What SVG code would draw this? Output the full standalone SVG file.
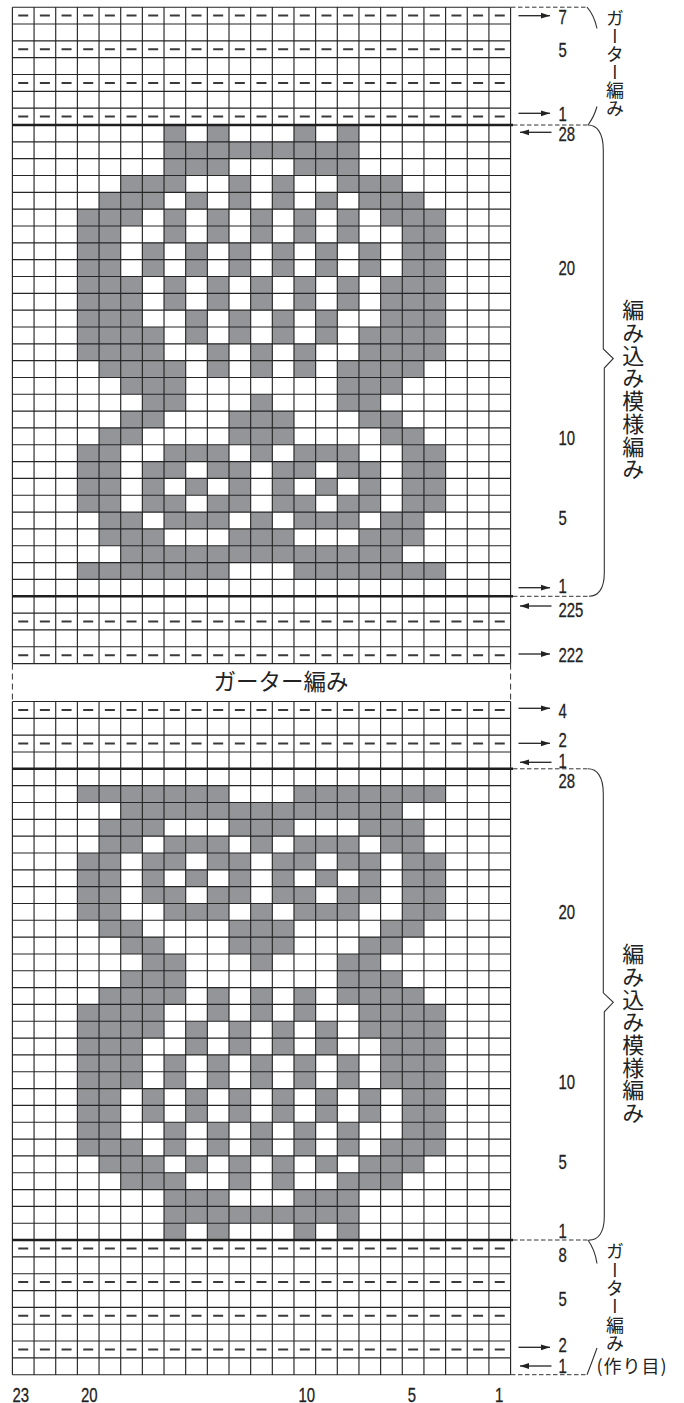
<svg xmlns="http://www.w3.org/2000/svg" xmlns:xlink="http://www.w3.org/1999/xlink" width="684" height="1403" viewBox="0 0 684 1403">
<style>
.grid{fill:none;stroke:#262626;stroke-width:1.15}
.thick{stroke:#1e1e1e;stroke-width:2.6}
.gdash{stroke:#3a3a3a;stroke-width:2;stroke-dasharray:10 11.66}
.lead{fill:none;stroke:#333;stroke-width:1;stroke-dasharray:4.5 2.5}
.gapline{fill:none;stroke:#333;stroke-width:1;stroke-dasharray:6 4}
.arr{stroke:#222;stroke-width:1.3;marker-end:url(#ah)}
.brace{fill:none;stroke:#333;stroke-width:1.1}
.num{font-family:"Liberation Sans",Arial,sans-serif;font-size:21px;fill:#222;stroke:#222;stroke-width:0.3}
.jp{font-family:"Noto Sans CJK JP","Noto Sans",sans-serif;fill:#222}
.vt{writing-mode:vertical-rl}
</style>
<defs>
<marker id="ah" markerUnits="userSpaceOnUse" markerWidth="10" markerHeight="7" refX="9" refY="3.5" orient="auto">
<path d="M0,0.6 L9,3.5 L0,6.4 z" fill="#222"/>
</marker>
<path id="motif" fill="#939598" d="M7 0h1v1h-1zM9 0h1v1h-1zM13 0h1v1h-1zM15 0h1v1h-1z
M7 1h9v1h-9z
M7 2h3v1h-3zM13 2h3v1h-3z
M5 3h3v1h-3zM10 3h1v1h-1zM12 3h1v1h-1zM15 3h3v1h-3z
M4 4h3v1h-3zM8 4h1v1h-1zM10 4h1v1h-1zM12 4h1v1h-1zM14 4h1v1h-1zM16 4h3v1h-3z
M3 5h3v1h-3zM7 5h1v1h-1zM9 5h1v1h-1zM11 5h1v1h-1zM13 5h1v1h-1zM15 5h1v1h-1zM17 5h3v1h-3z
M3 6h2v1h-2zM7 6h1v1h-1zM9 6h1v1h-1zM11 6h1v1h-1zM13 6h1v1h-1zM15 6h1v1h-1zM18 6h2v1h-2z
M3 7h2v2h-2zM6 7h1v2h-1zM8 7h1v2h-1zM10 7h1v2h-1zM12 7h1v2h-1zM14 7h1v2h-1zM16 7h1v2h-1zM18 7h2v2h-2z
M3 9h3v2h-3zM7 9h1v2h-1zM9 9h1v2h-1zM11 9h1v2h-1zM13 9h1v2h-1zM15 9h1v2h-1zM17 9h3v2h-3z
M3 11h3v1h-3zM8 11h1v1h-1zM10 11h1v1h-1zM12 11h1v1h-1zM14 11h1v1h-1zM17 11h3v1h-3z
M3 12h4v1h-4zM8 12h1v1h-1zM10 12h1v1h-1zM12 12h1v1h-1zM14 12h1v1h-1zM16 12h4v1h-4z
M3 13h4v1h-4zM9 13h1v1h-1zM11 13h1v1h-1zM13 13h1v1h-1zM16 13h4v1h-4z
M4 14h4v1h-4zM9 14h1v1h-1zM11 14h1v1h-1zM13 14h1v1h-1zM15 14h4v1h-4z
M5 15h3v1h-3zM15 15h3v1h-3z
M6 16h2v1h-2zM11 16h1v1h-1zM15 16h2v1h-2z
M5 17h2v1h-2zM10 17h3v1h-3zM16 17h2v1h-2z
M4 18h2v1h-2zM10 18h3v1h-3zM17 18h2v1h-2z
M3 19h2v1h-2zM7 19h3v1h-3zM11 19h1v1h-1zM13 19h3v1h-3zM18 19h2v1h-2z
M3 20h2v1h-2zM6 20h2v1h-2zM9 20h2v1h-2zM12 20h2v1h-2zM15 20h2v1h-2zM18 20h2v1h-2z
M3 21h2v1h-2zM6 21h1v1h-1zM8 21h1v1h-1zM10 21h1v1h-1zM12 21h1v1h-1zM14 21h1v1h-1zM16 21h1v1h-1zM18 21h2v1h-2z
M3 22h2v1h-2zM6 22h2v1h-2zM9 22h2v1h-2zM12 22h2v1h-2zM15 22h2v1h-2zM18 22h2v1h-2z
M4 23h2v1h-2zM7 23h3v1h-3zM11 23h1v1h-1zM13 23h3v1h-3zM17 23h2v1h-2z
M4 24h3v1h-3zM10 24h3v1h-3zM16 24h3v1h-3z
M5 25h13v1h-13z
M3 26h7v1h-7zM13 26h7v1h-7z"/>
</defs>
<rect width="684" height="1403" fill="#fff"/>

<g id="chart-top" transform="translate(12.4,7.2) scale(21.66,16.83)">
<use href="#motif" xlink:href="#motif" transform="translate(0,7)"/>
<path class="grid" vector-effect="non-scaling-stroke" d="M0 0H23M0 1H23M0 2H23M0 3H23M0 4H23M0 5H23M0 6H23M0 7H23M0 8H23M0 9H23M0 10H23M0 11H23M0 12H23M0 13H23M0 14H23M0 15H23M0 16H23M0 17H23M0 18H23M0 19H23M0 20H23M0 21H23M0 22H23M0 23H23M0 24H23M0 25H23M0 26H23M0 27H23M0 28H23M0 29H23M0 30H23M0 31H23M0 32H23M0 33H23M0 34H23M0 35H23M0 36H23M0 37H23M0 38H23M0 39H23M0 0V39M1 0V39M2 0V39M3 0V39M4 0V39M5 0V39M6 0V39M7 0V39M8 0V39M9 0V39M10 0V39M11 0V39M12 0V39M13 0V39M14 0V39M15 0V39M16 0V39M17 0V39M18 0V39M19 0V39M20 0V39M21 0V39M22 0V39M23 0V39"/>
</g>

<g id="chart-bottom" transform="translate(12.4,701.5) scale(21.66,16.83)">
<use href="#motif" xlink:href="#motif" transform="translate(0,32) scale(1,-1)"/>
<path class="grid" vector-effect="non-scaling-stroke" d="M0 0H23M0 1H23M0 2H23M0 3H23M0 4H23M0 5H23M0 6H23M0 7H23M0 8H23M0 9H23M0 10H23M0 11H23M0 12H23M0 13H23M0 14H23M0 15H23M0 16H23M0 17H23M0 18H23M0 19H23M0 20H23M0 21H23M0 22H23M0 23H23M0 24H23M0 25H23M0 26H23M0 27H23M0 28H23M0 29H23M0 30H23M0 31H23M0 32H23M0 33H23M0 34H23M0 35H23M0 36H23M0 37H23M0 38H23M0 39H23M0 40H23M0 0V40M1 0V40M2 0V40M3 0V40M4 0V40M5 0V40M6 0V40M7 0V40M8 0V40M9 0V40M10 0V40M11 0V40M12 0V40M13 0V40M14 0V40M15 0V40M16 0V40M17 0V40M18 0V40M19 0V40M20 0V40M21 0V40M22 0V40M23 0V40"/>
</g>

<g id="thick-lines">
<line class="thick" x1="12" y1="125" x2="513" y2="125"/>
<line class="thick" x1="12" y1="596.3" x2="513" y2="596.3"/>
<line class="thick" x1="12" y1="768.8" x2="513" y2="768.8"/>
<line class="thick" x1="12" y1="1240" x2="513" y2="1240"/>
</g>

<g id="garter-dashes">
<line class="gdash" x1="18.23" y1="15.6" x2="505" y2="15.6"/>
<line class="gdash" x1="18.23" y1="49.3" x2="505" y2="49.3"/>
<line class="gdash" x1="18.23" y1="82.9" x2="505" y2="82.9"/>
<line class="gdash" x1="18.23" y1="116.6" x2="505" y2="116.6"/>
<line class="gdash" x1="18.23" y1="621.5" x2="505" y2="621.5"/>
<line class="gdash" x1="18.23" y1="655.2" x2="505" y2="655.2"/>
<line class="gdash" x1="18.23" y1="709.9" x2="505" y2="709.9"/>
<line class="gdash" x1="18.23" y1="743.6" x2="505" y2="743.6"/>
<line class="gdash" x1="18.23" y1="1248.5" x2="505" y2="1248.5"/>
<line class="gdash" x1="18.23" y1="1282.1" x2="505" y2="1282.1"/>
<line class="gdash" x1="18.23" y1="1315.8" x2="505" y2="1315.8"/>
<line class="gdash" x1="18.23" y1="1349.5" x2="505" y2="1349.5"/>
</g>

<g id="connectors">
<line class="lead" x1="511" y1="7.2" x2="587" y2="7.2"/>
<line class="lead" x1="513" y1="125" x2="588" y2="125"/>
<line class="lead" x1="513" y1="596.3" x2="589" y2="596.3"/>
<line class="lead" x1="513" y1="768.8" x2="589" y2="768.8"/>
<line class="lead" x1="513" y1="1240" x2="588" y2="1240"/>
<line class="lead" x1="511" y1="1374.7" x2="587" y2="1374.7"/>
<line class="gapline" x1="12.4" y1="663.6" x2="12.4" y2="701.5"/>
<line class="gapline" x1="510.6" y1="663.6" x2="510.6" y2="701.5"/>
<path class="brace" d="M587,7.2 Q594,15 597,28.5"/>
<path class="brace" d="M597,106.5 Q594,117 588,125"/>
<path class="brace" d="M588,1240 Q595,1250 597,1263.5"/>
<path class="brace" d="M597,1348 Q592,1362 587,1374.7"/>
<path id="brace-top" class="brace" d="M588,125 C597,125 603.3,133 603.3,150 L603.3,349 L613.3,358.5 L604.3,368 L604.3,573 C604.3,589 598,596.3 589,596.3"/>
<path id="brace-bottom" class="brace" transform="translate(0,643.8)" d="M588,125 C597,125 603.3,133 603.3,150 L603.3,349 L613.3,358.5 L604.3,368 L604.3,573 C604.3,589 598,596.3 589,596.3"/>
<line class="arr" x1="518.5" y1="15.7" x2="550" y2="15.7"/>
<line class="arr" x1="518.5" y1="113.3" x2="550" y2="113.3"/>
<line class="arr" x1="551.5" y1="132.3" x2="520" y2="132.3"/>
<line class="arr" x1="518.5" y1="587.7" x2="550" y2="587.7"/>
<line class="arr" x1="551.5" y1="606" x2="520" y2="606"/>
<line class="arr" x1="518.5" y1="654" x2="550" y2="654"/>
<line class="arr" x1="518.5" y1="708.3" x2="550" y2="708.3"/>
<line class="arr" x1="518.5" y1="743.3" x2="550" y2="743.3"/>
<line class="arr" x1="551.5" y1="762.3" x2="520" y2="762.3"/>
<line class="arr" x1="518.5" y1="1347.3" x2="550" y2="1347.3"/>
<line class="arr" x1="551.5" y1="1366" x2="520" y2="1366"/>
</g>

<g id="row-numbers" class="num">
<text x="558.5" y="24" textLength="8.3" lengthAdjust="spacingAndGlyphs">7</text>
<text x="558.5" y="56.7" textLength="8.3" lengthAdjust="spacingAndGlyphs">5</text>
<text x="558.5" y="120.5" textLength="8.3" lengthAdjust="spacingAndGlyphs">1</text>
<text x="558.5" y="140.7" textLength="16.6" lengthAdjust="spacingAndGlyphs">28</text>
<text x="558.5" y="275" textLength="16.6" lengthAdjust="spacingAndGlyphs">20</text>
<text x="558.5" y="445" textLength="16.6" lengthAdjust="spacingAndGlyphs">10</text>
<text x="558.5" y="525" textLength="8.3" lengthAdjust="spacingAndGlyphs">5</text>
<text x="558.5" y="593.3" textLength="8.3" lengthAdjust="spacingAndGlyphs">1</text>
<text x="558.5" y="617" textLength="24.9" lengthAdjust="spacingAndGlyphs">225</text>
<text x="558.5" y="662" textLength="24.9" lengthAdjust="spacingAndGlyphs">222</text>
<text x="558.5" y="717.5" textLength="8.3" lengthAdjust="spacingAndGlyphs">4</text>
<text x="558.5" y="746.5" textLength="8.3" lengthAdjust="spacingAndGlyphs">2</text>
<text x="558.5" y="767.5" textLength="8.3" lengthAdjust="spacingAndGlyphs">1</text>
<text x="558.5" y="788" textLength="16.6" lengthAdjust="spacingAndGlyphs">28</text>
<text x="558.5" y="918.8" textLength="16.6" lengthAdjust="spacingAndGlyphs">20</text>
<text x="558.5" y="1088.8" textLength="16.6" lengthAdjust="spacingAndGlyphs">10</text>
<text x="558.5" y="1168.8" textLength="8.3" lengthAdjust="spacingAndGlyphs">5</text>
<text x="558.5" y="1238" textLength="8.3" lengthAdjust="spacingAndGlyphs">1</text>
<text x="558.5" y="1261.7" textLength="8.3" lengthAdjust="spacingAndGlyphs">8</text>
<text x="558.5" y="1306" textLength="8.3" lengthAdjust="spacingAndGlyphs">5</text>
<text x="558.5" y="1351.5" textLength="8.3" lengthAdjust="spacingAndGlyphs">2</text>
<text x="558.5" y="1372.5" textLength="8.3" lengthAdjust="spacingAndGlyphs">1</text>
</g>

<g id="col-numbers" class="num">
<text x="12.5" y="1401.5" textLength="16.6" lengthAdjust="spacingAndGlyphs">23</text>
<text x="81" y="1401.5" textLength="16.6" lengthAdjust="spacingAndGlyphs">20</text>
<text x="298.5" y="1401.5" textLength="16.6" lengthAdjust="spacingAndGlyphs">10</text>
<text x="407.7" y="1401.5" textLength="8.3" lengthAdjust="spacingAndGlyphs">5</text>
<text x="495" y="1401.5" textLength="8.3" lengthAdjust="spacingAndGlyphs">1</text>
</g>

<g id="labels" class="jp">
<text class="vt" x="615" y="9.5" font-size="18">ガーター編み</text>
<text class="vt" x="633.3" y="299" font-size="22" letter-spacing="0.7">編み込み模様編み</text>
<text x="281" y="690" font-size="22.5" text-anchor="middle">ガーター編み</text>
<text class="vt" x="633.3" y="942.8" font-size="22" letter-spacing="0.7">編み込み模様編み</text>
<text class="vt" x="615" y="1242.5" font-size="18" letter-spacing="0.3">ガーター編み</text>
<text x="596.5" y="1373" font-size="18" textLength="70" lengthAdjust="spacing">(作り目)</text>
</g>
</svg>
